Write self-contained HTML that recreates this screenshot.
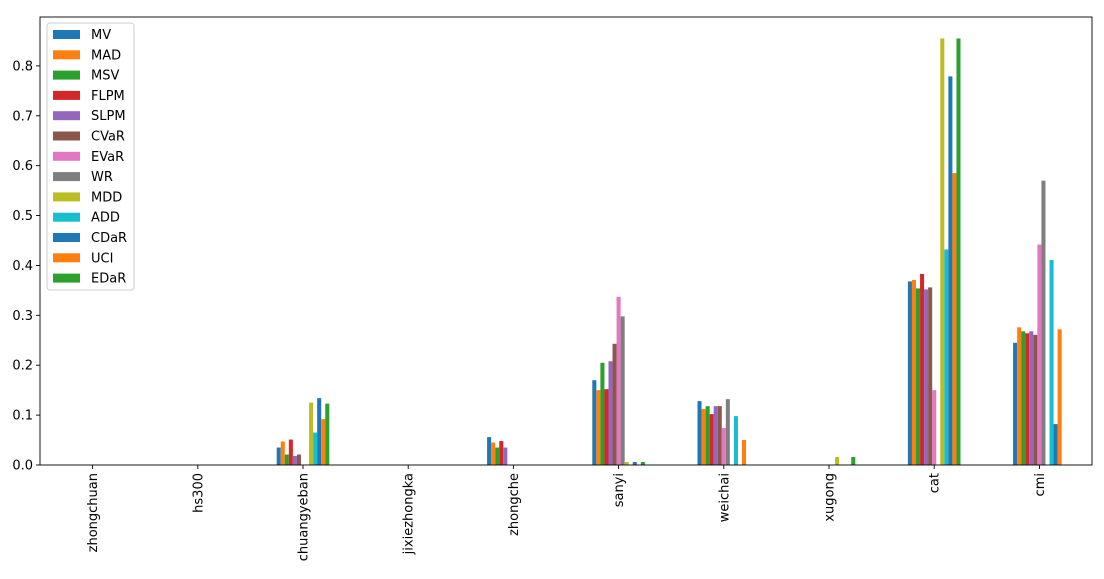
<!DOCTYPE html>
<html><head><meta charset="utf-8"><style>
body{margin:0;background:#fff;font-family:"DejaVu Sans","Liberation Sans",sans-serif}
</style></head><body>
<svg id="c" width="1104" height="575" xmlns="http://www.w3.org/2000/svg" font-family="DejaVu Sans, Liberation Sans, sans-serif"></svg>
<script>
const categories=["zhongchuan","hs300","chuangyeban","jixiezhongka","zhongche","sanyi","weichai","xugong","cat","cmi"];
const seriesNames=["MV","MAD","MSV","FLPM","SLPM","CVaR","EVaR","WR","MDD","ADD","CDaR","UCI","EDaR"];
const colors=["#1f77b4","#ff7f0e","#2ca02c","#d62728","#9467bd","#8c564b","#e377c2","#7f7f7f","#bcbd22","#17becf","#1f77b4","#ff7f0e","#2ca02c"];
const MV=[0,0,0.035,0,0.056,0.170,0.128,0,0.368,0.245];
const MAD=[0,0,0.047,0,0.045,0.150,0.112,0,0.371,0.276];
const MSV=[0,0,0.021,0,0.035,0.205,0.118,0,0.354,0.268];
const FLPM=[0,0,0.051,0,0.048,0.152,0.102,0,0.383,0.264];
const SLPM=[0,0,0.018,0,0.035,0.208,0.118,0,0.352,0.268];
const CVaR=[0,0,0.021,0,0,0.243,0.118,0,0.356,0.261];
const EVaR=[0,0,0,0,0,0.337,0.074,0,0.150,0.442];
const WR=[0,0,0,0,0,0.298,0.132,0,0,0.570];
const MDD=[0,0,0.125,0,0,0.006,0,0.016,0.855,0];
const ADD=[0,0,0.065,0,0,0,0.098,0,0.432,0.411];
const CDaR=[0,0,0.134,0,0,0.006,0,0,0.779,0.082];
const UCI=[0,0,0.092,0,0,0,0.050,0,0.585,0.272];
const EDaR=[0,0,0.123,0,0,0.006,0,0.016,0.855,0];
const series=[MV,MAD,MSV,FLPM,SLPM,CVaR,EVaR,WR,MDD,ADD,CDaR,UCI,EDaR];
const yTicks=[0,0.1,0.2,0.3,0.4,0.5,0.6,0.7,0.8];

const svg=document.getElementById('c');const NS="http://www.w3.org/2000/svg";
const L=40,R=1092,T=17,B=465,yMax=0.898;
const step=(R-L)/categories.length;
const x=i=>L+step*(i+0.5);
const y=v=>B-(v/yMax)*(B-T);
function el(t,a,p){const e=document.createElementNS(NS,t);for(const k in a)e.setAttribute(k,a[k]);(p||svg).appendChild(e);return e;}
const bw=step*0.5/series.length;
series.forEach((s,si)=>{
  s.forEach((v,ci)=>{
    if(v<=0)return;
    const bx=x(ci)-step*0.25+si*bw;
    const r=el('rect',{x:bx,y:y(v),width:bw,height:B-y(v),fill:colors[si]});
    
    
  });
});
el('rect',{x:L,y:T,width:R-L,height:B-T,fill:'none',stroke:'#000','stroke-width':0.9,});
yTicks.forEach(t=>{
  const yy=y(t);
  el('line',{x1:L-4,x2:L,y1:yy,y2:yy,stroke:'#000','stroke-width':0.9});
  const tx=el('text',{x:L-7,y:yy+4.5,'text-anchor':'end','font-size':13,fill:'#000'});
  tx.textContent=t.toFixed(1);
  
  
});
categories.forEach((c,i)=>{
  const xx=x(i);
  el('line',{x1:xx,x2:xx,y1:B,y2:B+4,stroke:'#000','stroke-width':0.9});
  const tx=el('text',{x:0,y:0,'text-anchor':'end','font-size':13,fill:'#000',transform:`translate(${xx+4.5},${B+8}) rotate(-90)`});
  tx.textContent=c;
  
  
});
const lg=el('g',{});
el('rect',{x:47,y:23,width:87,height:267,rx:3,fill:'#fff','fill-opacity':0.8,stroke:'#ccc'},lg);
seriesNames.forEach((n,i)=>{
  const yy=34+i*20.3;
  const sw=el('rect',{x:53,y:yy-4,width:27,height:9,fill:colors[i]},lg);
  
  
  const t=el('text',{x:91,y:yy+5,'font-size':13,fill:'#000'},lg);
  t.textContent=n;
  
  
});
</script>
</body></html>
